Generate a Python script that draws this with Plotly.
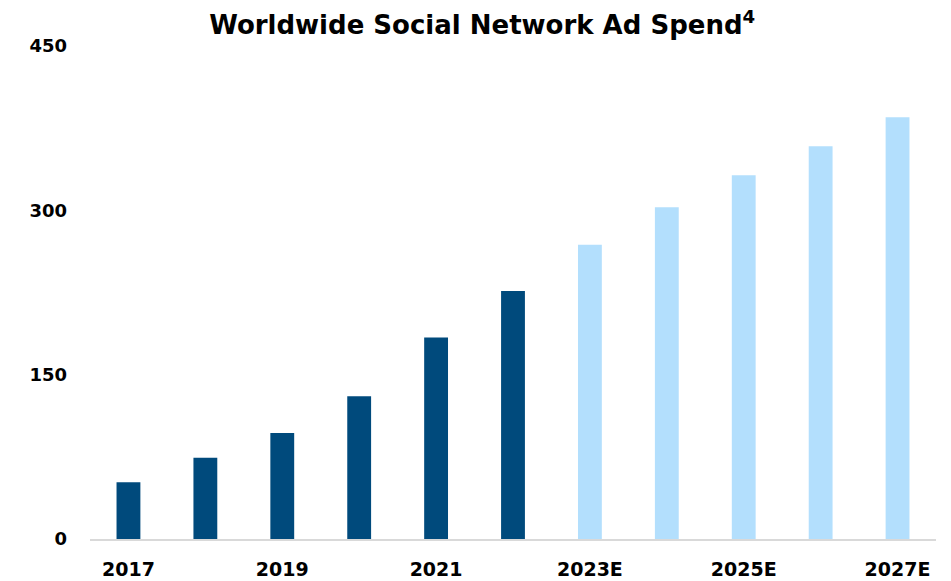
import plotly.graph_objects as go

# Annual worldwide social network ad spend (actuals and estimates)
years = ["2017", "2018", "2019", "2020", "2021", "2022",
         "2023E", "2024E", "2025E", "2026E", "2027E"]
spend = [51.7, 74.2, 96.7, 130.4, 184.0, 226.3,
         268.5, 302.8, 332.0, 358.4, 385.0]
is_estimate = [y.endswith("E") for y in years]

tick_years = ["2017", "2019", "2021", "2023E", "2025E", "2027E"]
y_ticks = [0, 150, 300, 450]

dark_blue = "#004a7c"
light_blue = "#b3dffd"
bar_colors = [light_blue if e else dark_blue for e in is_estimate]

font_family = "'DejaVu Sans', sans-serif"

fig = go.Figure(
    go.Bar(
        x=years,
        y=spend,
        marker=dict(color=bar_colors, line=dict(width=0)),
        hoverinfo="x+y",
    )
)

fig.update_layout(
    width=951,
    height=581,
    margin=dict(l=89.5, r=14.5, t=45.5, b=41.5),
    paper_bgcolor="white",
    plot_bgcolor="white",
    bargap=0.69,
    showlegend=False,
    title=dict(
        text="<b>Worldwide Social Network Ad Spend<sup>4</sup></b>",
        x=0.507,
        xanchor="center",
        y=0.958,
        yanchor="middle",
        font=dict(family=font_family, size=26, color="#000000"),
    ),
    font=dict(family=font_family, color="#000000"),
)

fig.update_xaxes(
    type="category",
    tickmode="array",
    tickvals=tick_years,
    ticktext=[f"<b>{t}</b>" for t in tick_years],
    tickfont=dict(size=19, color="#000000"),
    showline=True,
    linecolor="#d9d9d9",
    linewidth=1.5,
    showgrid=False,
    ticks="",
    ticklabelstandoff=12,
    automargin=False,
)

fig.update_yaxes(
    range=[0, 450],
    tickmode="array",
    tickvals=y_ticks,
    ticktext=[f"<b>{v}</b>" for v in y_ticks],
    tickfont=dict(size=18, color="#000000"),
    showgrid=False,
    zeroline=False,
    showline=False,
    ticks="",
    ticklabelstandoff=22,
    automargin=False,
)

fig.write_html("out.html")
